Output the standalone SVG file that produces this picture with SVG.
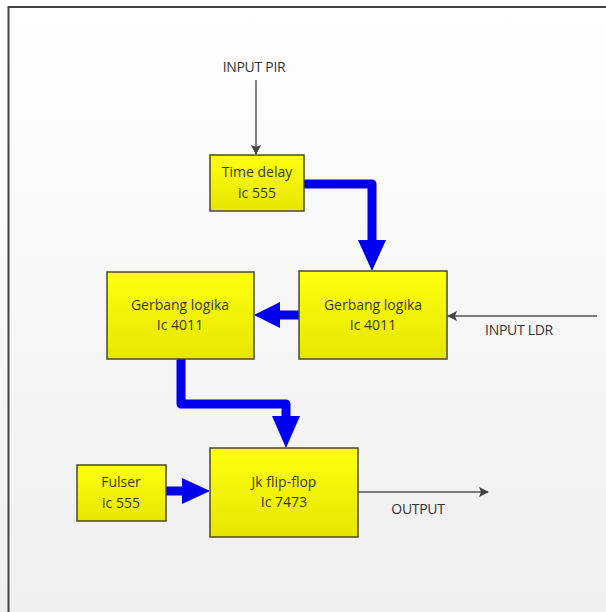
<svg xmlns="http://www.w3.org/2000/svg" width="606" height="612" viewBox="0 0 606 612">
<defs>
<linearGradient id="bg" x1="0" y1="0" x2="0" y2="1"><stop offset="0" stop-color="#ffffff"/><stop offset="1" stop-color="#efefef"/></linearGradient>
<linearGradient id="yb" x1="0" y1="0" x2="0" y2="1"><stop offset="0" stop-color="#ffff10"/><stop offset="1" stop-color="#e6e600"/></linearGradient>
<marker id="ga" markerWidth="10" markerHeight="10" refX="9" refY="5" orient="auto" markerUnits="userSpaceOnUse" viewBox="0 0 10 10"><path d="M0,0 L10,5 L0,10 L2,5 Z" fill="#444"/></marker>
</defs>
<style>
.box{fill:url(#yb);stroke:#4a4a2a;stroke-width:1.5}
.bt{font-family:"Open Sans","Noto Sans",sans-serif;font-size:14px;fill:#3a3a10;text-anchor:middle}
.lb{font-family:"Open Sans","Noto Sans",sans-serif;font-size:14px;fill:#333;text-anchor:middle;letter-spacing:-0.3px}
.gl{stroke:#555;stroke-width:1.5;fill:none;marker-end:url(#ga)}
.bl{stroke:#0000ee;stroke-width:9;fill:none;stroke-linejoin:round;stroke-linecap:round}
.ah{fill:#0000ee}
</style>
<rect x="0" y="0" width="606" height="612" fill="url(#bg)"/>
<path d="M8.5,612 V7 H606" fill="none" stroke="#444" stroke-width="2"/>
<g id="connectors">
<line class="gl" x1="256" y1="80" x2="256" y2="154"/>
<line class="gl" x1="597" y1="316" x2="448" y2="316"/>
<line class="gl" x1="358" y1="492" x2="488" y2="492"/>
<path class="bl" d="M304,184 H372 V242"/>
<polygon class="ah" points="358,240 386,240 372,271"/>
<path class="bl" d="M299,315 H278"/>
<polygon class="ah" points="280,302 280,328 254,315"/>
<path class="bl" d="M181,359 V404 H286 V418"/>
<polygon class="ah" points="272,416 300,416 286,448"/>
<path class="bl" d="M166,491 H184"/>
<polygon class="ah" points="182,478 182,504 210,491"/>
</g>
<g id="label-pir"><text class="lb" x="254" y="72">INPUT PIR</text></g>
<g id="label-ldr"><text class="lb" x="519" y="335">INPUT LDR</text></g>
<g id="label-output"><text class="lb" x="418" y="514">OUTPUT</text></g>
<g id="time-delay"><rect class="box" x="210" y="155" width="94" height="56"/><text class="bt" x="257" y="177">Time delay</text><text class="bt" x="257" y="198">ic 555</text></g>
<g id="gerbang-right"><rect class="box" x="299" y="271" width="148" height="88"/><text class="bt" x="373" y="310">Gerbang logika</text><text class="bt" x="373" y="330">Ic 4011</text></g>
<g id="gerbang-left"><rect class="box" x="107" y="272" width="147" height="87"/><text class="bt" x="180" y="310">Gerbang logika</text><text class="bt" x="180" y="330">Ic 4011</text></g>
<g id="jk-flipflop"><rect class="box" x="210" y="448" width="148" height="89"/><text class="bt" x="284" y="487">Jk flip-flop</text><text class="bt" x="284" y="507">Ic 7473</text></g>
<g id="fulser"><rect class="box" x="77" y="465" width="89" height="56"/><text class="bt" x="121" y="487">Fulser</text><text class="bt" x="121" y="508">ic 555</text></g>
</svg>
